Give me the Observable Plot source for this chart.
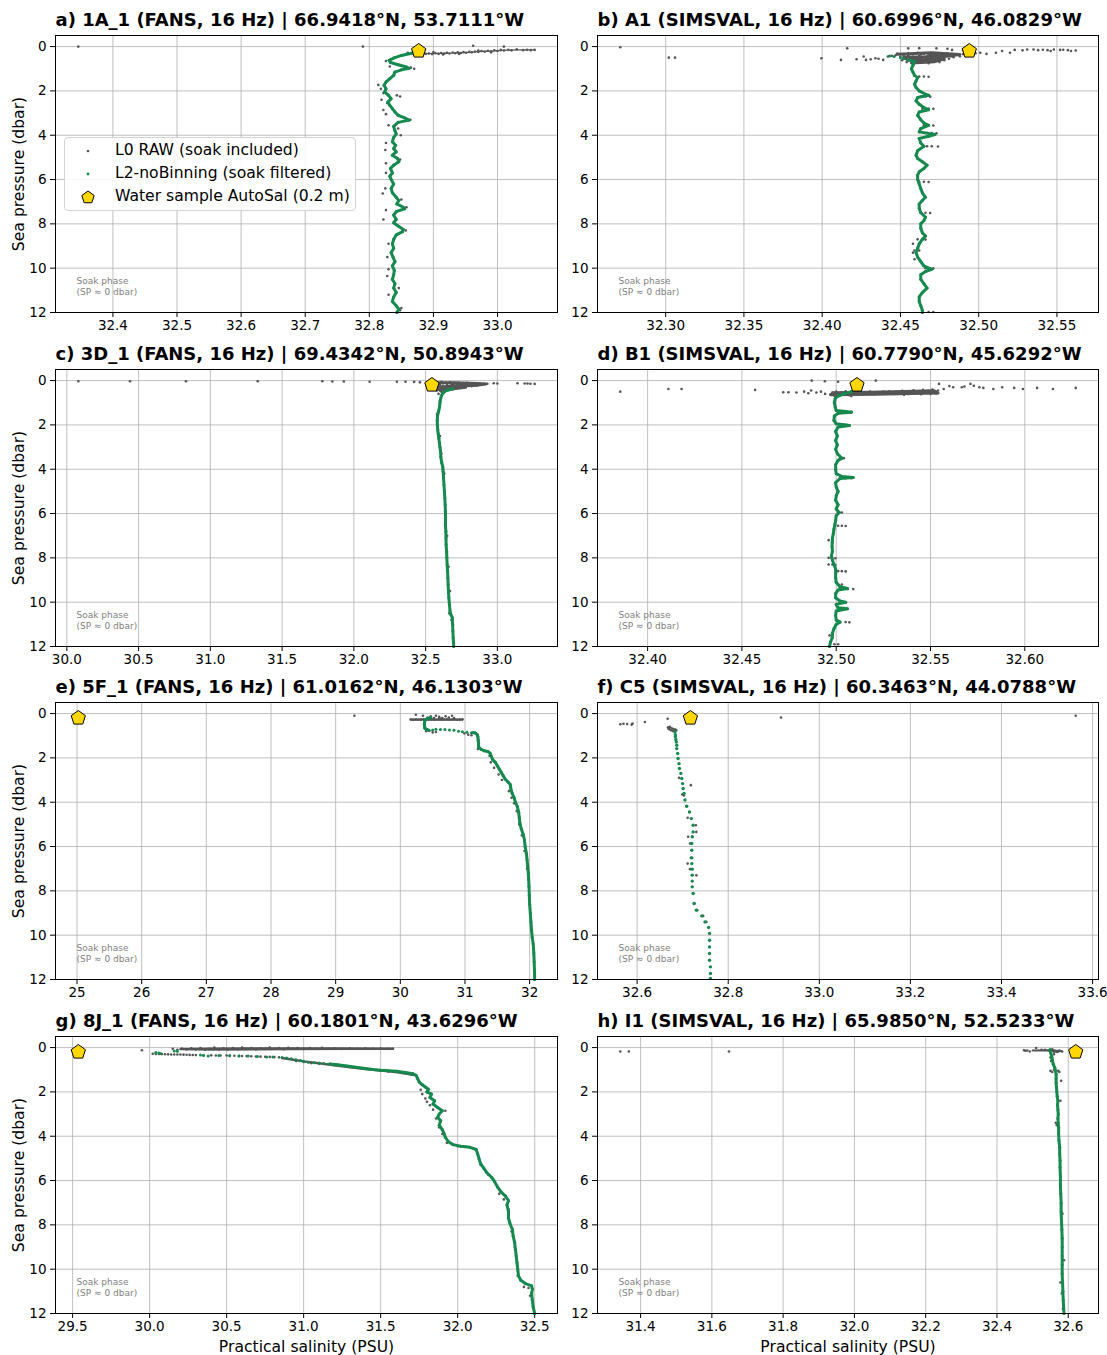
<!DOCTYPE html>
<html><head><meta charset="utf-8">
<script src="https://cdn.jsdelivr.net/npm/d3@7"></script>
<script src="https://cdn.jsdelivr.net/npm/@observablehq/plot@0.6"></script>
<style>
body{margin:0;background:#fff;font-family:"DejaVu Sans",sans-serif;}
#fig{position:relative;width:1107px;height:1355px;overflow:hidden;}
.panel{position:absolute;}
#legend{position:absolute;left:64px;top:137px;width:290px;height:72px;border:1px solid #d3d3d3;border-radius:4px;background:rgba(255,255,255,0.85);z-index:3;font-family:"DejaVu Sans",sans-serif;font-size:15.6px;color:#000;}
#legend .row{position:absolute;left:0;height:22px;width:100%;}
#legend svg{position:absolute;left:14px;top:2px;}
#legend span{position:absolute;left:50px;top:0px;white-space:nowrap;line-height:21px;}
</style></head><body><div id="fig"></div><script>
// ---------- titles & ticks ----------
const titles = [
 "a) 1A_1 (FANS, 16 Hz) | 66.9418°N, 53.7111°W",
 "b) A1 (SIMSVAL, 16 Hz) | 60.6996°N, 46.0829°W",
 "c) 3D_1 (FANS, 16 Hz) | 69.4342°N, 50.8943°W",
 "d) B1 (SIMSVAL, 16 Hz) | 60.7790°N, 45.6292°W",
 "e) 5F_1 (FANS, 16 Hz) | 61.0162°N, 46.1303°W",
 "f) C5 (SIMSVAL, 16 Hz) | 60.3463°N, 44.0788°W",
 "g) 8J_1 (FANS, 16 Hz) | 60.1801°N, 43.6296°W",
 "h) I1 (SIMSVAL, 16 Hz) | 65.9850°N, 52.5233°W"
];
const xTickLabels = [
 ["32.4","32.5","32.6","32.7","32.8","32.9","33.0"],
 ["32.30","32.35","32.40","32.45","32.50","32.55"],
 ["30.0","30.5","31.0","31.5","32.0","32.5","33.0"],
 ["32.40","32.45","32.50","32.55","32.60"],
 ["25","26","27","28","29","30","31","32"],
 ["32.6","32.8","33.0","33.2","33.4","33.6"],
 ["29.5","30.0","30.5","31.0","31.5","32.0","32.5"],
 ["31.4","31.6","31.8","32.0","32.2","32.4","32.6"]
];
const yTickLabels = ["0","2","4","6","8","10","12"];
const legendLabels = ["L0 RAW (soak included)","L2-noBinning (soak filtered)","Water sample AutoSal (0.2 m)"];
const soakNote = "Soak phase\n(SP ≈ 0 dbar)";
const yLabel = "Sea pressure (dbar)";
const xLabel = "Practical salinity (PSU)";

// ---------- water samples [S, P] ----------
const samples = [[32.877,0.2],[32.494,0.2],[32.544,0.2],[32.511,0.2],[25.02,0.2],[32.717,0.2],[29.537,0.2],[32.621,0.2]];

// ---------- panel a ----------
const l2_a = [[32.876,0.22],[32.866,0.3],[32.850,0.4],[32.838,0.52],[32.831,0.62],[32.833,0.72],[32.845,0.82],[32.858,0.92],[32.862,0.98],[32.850,1.05],[32.840,1.15],[32.838,1.3],[32.832,1.45],[32.826,1.6],[32.823,1.75],[32.826,1.9],[32.824,2.05],[32.830,2.2],[32.834,2.35],[32.829,2.5],[32.832,2.65],[32.836,2.8],[32.840,2.95],[32.845,3.1],[32.855,3.22],[32.862,3.32],[32.845,3.42],[32.838,3.6],[32.840,3.8],[32.842,3.95],[32.838,4.1],[32.836,4.3],[32.841,4.45],[32.838,4.6],[32.842,4.75],[32.836,4.9],[32.844,5.05],[32.846,5.2],[32.838,5.35],[32.833,5.5],[32.836,5.7],[32.832,5.85],[32.834,6.0],[32.838,6.2],[32.834,6.4],[32.836,6.6],[32.842,6.8],[32.846,6.95],[32.843,7.1],[32.853,7.25],[32.855,7.32],[32.842,7.45],[32.838,7.6],[32.842,7.8],[32.838,7.95],[32.845,8.1],[32.853,8.25],[32.852,8.35],[32.842,8.5],[32.838,8.7],[32.836,8.9],[32.838,9.1],[32.834,9.3],[32.837,9.5],[32.840,9.7],[32.836,9.9],[32.839,10.1],[32.838,10.3],[32.836,10.5],[32.840,10.7],[32.838,10.9],[32.842,11.1],[32.838,11.3],[32.836,11.5],[32.842,11.7],[32.846,11.85],[32.843,12.0]];
const l2dots_a = [];
const l0trace_a = [[32.880,0.32],[32.910,0.31],[32.935,0.29],[32.955,0.26],[32.975,0.22],[32.995,0.19],[33.015,0.16],[33.035,0.15],[33.058,0.15]];
const l0_a = [[32.346,0.0],[32.79,0.0],[32.962,-0.04],[33.01,0.0],
 [32.882,0.3],[32.888,0.33],[32.893,0.31],[32.898,0.34],[32.903,0.3],[32.908,0.33],[32.912,0.29],[32.917,0.32],[32.921,0.28],[32.925,0.31],[32.930,0.27],[32.934,0.3],[32.938,0.26],[32.943,0.29],[32.947,0.25],[32.951,0.28],[32.956,0.24],[32.960,0.26],[32.965,0.22],[32.970,0.24],[32.975,0.2],[32.980,0.23],[32.985,0.19],[32.990,0.21],[32.995,0.17],[33.000,0.2],[33.005,0.15],[33.010,0.18],[33.017,0.14],[33.022,0.17],[33.030,0.12],[33.040,0.16],[33.046,0.14],[33.052,0.16],[33.058,0.15],[32.900,0.25],[32.915,0.36],[32.94,0.33],[32.97,0.18],[32.99,0.26],
 [32.826,0.65],[32.84,0.5],[32.86,0.28],[32.832,0.9],[32.865,0.95],[32.87,1.0],
 [32.814,1.73],[32.818,1.9],[32.822,2.1],[32.843,2.2],[32.848,2.25],[32.819,2.4],[32.828,2.55],[32.822,2.86],[32.826,3.05],[32.864,3.3],[32.83,3.55],[32.845,3.7],[32.849,4.0],[32.826,4.35],[32.825,4.67],[32.826,5.27],[32.848,5.1],[32.826,5.7],[32.825,6.4],[32.821,6.63],[32.85,6.9],[32.858,7.25],[32.826,7.38],[32.822,7.8],[32.857,8.3],[32.83,8.9],[32.828,9.5],[32.83,10.05],[32.828,10.35],[32.846,10.9],[32.85,11.8],[32.848,11.9],[32.83,11.2]];

// ---------- panel b ----------
const l2dots_b = [[32.443,0.42],[32.446,0.45],[32.450,0.5],[32.452,0.55]];
const l2_b = [[32.455,0.6],[32.458,0.65],[32.459,0.7],[32.458,0.85],[32.457,1.0],[32.458,1.15],[32.459,1.3],[32.461,1.4],[32.460,1.55],[32.459,1.7],[32.460,1.85],[32.462,2.0],[32.466,2.15],[32.468,2.2],[32.461,2.3],[32.460,2.45],[32.462,2.6],[32.465,2.75],[32.468,2.85],[32.462,2.95],[32.461,3.1],[32.463,3.3],[32.465,3.45],[32.468,3.55],[32.463,3.7],[32.462,3.85],[32.472,3.97],[32.468,4.05],[32.462,4.15],[32.463,4.35],[32.465,4.5],[32.461,4.7],[32.460,4.9],[32.461,5.05],[32.464,5.2],[32.467,5.35],[32.465,5.5],[32.462,5.65],[32.461,5.8],[32.461,6.0],[32.462,6.2],[32.463,6.4],[32.464,6.6],[32.466,6.8],[32.464,6.95],[32.462,7.1],[32.462,7.3],[32.463,7.5],[32.466,7.7],[32.465,7.85],[32.463,8.0],[32.463,8.2],[32.464,8.4],[32.466,8.55],[32.464,8.7],[32.462,8.9],[32.461,9.1],[32.460,9.3],[32.461,9.5],[32.463,9.7],[32.465,9.9],[32.470,10.05],[32.466,10.15],[32.463,10.3],[32.463,10.5],[32.465,10.7],[32.467,10.9],[32.464,11.1],[32.462,11.3],[32.462,11.5],[32.463,11.7],[32.464,11.9],[32.464,12.0]];
const l0trace_b = [[32.448,0.35],[32.470,0.28],[32.488,0.36],[32.478,0.45],[32.452,0.48],[32.455,0.6],[32.478,0.55],[32.472,0.68],[32.457,0.74],[32.462,0.62],[32.468,0.42],[32.484,0.42]];
const l0_b = [[32.271,0.03],[32.302,0.5],[32.306,0.5],[32.3995,0.53],[32.416,0.08],[32.412,0.6],[32.422,0.57],[32.4265,0.45],[32.431,0.57],[32.434,0.53],[32.439,0.6],[32.442,0.45],[32.4445,0.42],[32.447,0.38],[32.436,0.55],[32.428,0.6],
 [32.448,0.32],[32.450,0.45],[32.451,0.62],[32.452,0.38],[32.453,0.55],[32.454,0.7],[32.455,0.3],[32.456,0.48],[32.457,0.62],[32.458,0.35],[32.459,0.5],[32.460,0.72],[32.461,0.28],[32.462,0.42],[32.463,0.58],[32.464,0.68],[32.465,0.33],[32.466,0.46],[32.467,0.6],[32.468,0.75],[32.469,0.38],[32.470,0.52],[32.471,0.66],[32.472,0.3],[32.473,0.44],[32.474,0.58],[32.475,0.7],[32.476,0.36],[32.477,0.5],[32.478,0.62],[32.479,0.42],[32.480,0.32],[32.481,0.55],[32.483,0.4],[32.484,0.48],[32.486,0.36],[32.488,0.44],[32.490,0.34],[32.492,0.4],[32.496,0.36],[32.455,0.4],[32.46,0.6],[32.465,0.52],[32.47,0.42],[32.475,0.48],[32.458,0.66],[32.463,0.36],[32.468,0.3],[32.473,0.62],[32.478,0.38],
 [32.498,0.3],[32.501,0.28],[32.505,0.33],[32.511,0.28],[32.520,0.28],[32.523,0.15],[32.531,0.13],[32.535,0.13],[32.541,0.14],[32.546,0.2],[32.548,0.13],[32.552,0.15],[32.554,0.14],[32.559,0.2],[32.562,0.18],[32.515,0.2],[32.528,0.17],[32.538,0.16],[32.544,0.16],[32.557,0.16],
 [32.462,0.07],[32.48,0.1],[32.483,0.15],[32.49,0.15],[32.455,0.08],[32.473,0.08],
 [32.462,1.35],[32.465,1.35],[32.468,1.36],[32.463,2.25],[32.466,2.25],[32.469,2.26],[32.464,2.8],[32.468,2.8],[32.471,2.81],[32.465,3.55],[32.468,3.55],[32.471,3.56],[32.467,3.9],[32.470,3.9],[32.473,3.91],[32.467,4.5],[32.470,4.5],[32.474,4.51],[32.462,6.1],[32.465,6.1],[32.468,6.11],[32.463,7.5],[32.466,7.5],[32.469,7.51],[32.461,8.7],[32.464,8.7],[32.466,8.71],[32.459,9.2],[32.462,9.2],[32.466,10.0],[32.469,10.0],[32.471,10.01],[32.468,11.98],[32.471,11.98],[32.458,9.3],[32.459,9.6],[32.458,8.9]];

// ---------- panel c ----------
const l2_c = [[32.688,0.38],[32.660,0.42],[32.635,0.48],[32.622,0.56],[32.610,0.68],[32.604,0.85],[32.600,1.0],[32.597,1.2],[32.590,1.4],[32.583,1.6],[32.581,1.8],[32.582,2.0],[32.584,2.2],[32.588,2.4],[32.592,2.6],[32.596,2.8],[32.600,3.0],[32.604,3.2],[32.606,3.45],[32.612,3.7],[32.620,3.9],[32.622,4.1],[32.625,4.4],[32.628,4.7],[32.631,5.0],[32.634,5.3],[32.636,5.6],[32.638,5.9],[32.639,6.2],[32.638,6.5],[32.641,6.8],[32.642,7.1],[32.643,7.4],[32.646,7.7],[32.648,8.0],[32.650,8.3],[32.653,8.6],[32.655,8.9],[32.657,9.2],[32.659,9.5],[32.662,9.8],[32.666,10.1],[32.670,10.4],[32.675,10.55],[32.686,10.7],[32.688,11.0],[32.690,11.3],[32.692,11.6],[32.694,11.8],[32.696,12.0]];
const l2dots_c = [];
const l0trace_c = [[32.56,0.1],[32.70,0.1],[32.86,0.13],[32.92,0.15],[32.84,0.22],[32.70,0.25],[32.58,0.3],[32.60,0.42],[32.68,0.38],[32.78,0.3]];
const l0_c = [[30.08,0.03],[30.44,0.03],[30.83,0.03],[31.33,0.03],[31.78,0.03],[31.85,0.04],[31.93,0.04],[32.11,0.05],[32.30,0.05],[32.36,0.05],[32.42,0.06],[32.46,0.08],[32.975,0.12],[33.0,0.13],[33.14,0.12],[33.19,0.13],[33.21,0.13],[33.23,0.14],[33.26,0.15],
 [32.55,0.1],[32.58,0.08],[32.61,0.06],[32.64,0.1],[32.67,0.08],[32.70,0.12],[32.73,0.1],[32.76,0.12],[32.79,0.1],[32.82,0.13],[32.85,0.12],[32.88,0.15],[32.91,0.14],[32.93,0.14],[32.62,0.12],[32.68,0.14],[32.74,0.15],[32.80,0.15],
 [32.57,0.3],[32.59,0.38],[32.60,0.2],[32.62,0.25],[32.63,0.35],[32.65,0.2],[32.66,0.3],[32.67,0.4],[32.68,0.22],[32.70,0.28],[32.71,0.35],[32.72,0.2],[32.74,0.25],[32.75,0.32],[32.77,0.2],[32.78,0.28],[32.80,0.22],[32.82,0.25],[32.84,0.2],[32.86,0.22],[32.60,0.45],[32.62,0.42],[32.65,0.4],[32.58,0.45],[32.64,0.28],[32.69,0.18],[32.73,0.3],[32.76,0.25],
 [32.61,0.5],[32.59,0.6],[32.60,0.9],[32.58,1.5],[32.60,2.5],[32.61,3.3],[32.62,4.0],[32.63,4.2],[32.65,7.0],[32.66,8.4],[32.67,9.5],[32.665,10.5],[32.68,10.8]];

// ---------- panel d ----------
const l2_d = [[32.508,0.5],[32.504,0.6],[32.501,0.7],[32.4995,0.8],[32.499,1.0],[32.4995,1.2],[32.500,1.35],[32.505,1.4],[32.508,1.43],[32.501,1.48],[32.499,1.6],[32.4988,1.8],[32.500,1.95],[32.505,2.0],[32.507,2.03],[32.501,2.1],[32.4997,2.3],[32.5006,2.5],[32.4997,2.7],[32.5006,2.9],[32.4997,3.1],[32.5006,3.3],[32.503,3.5],[32.501,3.6],[32.4997,3.8],[32.4997,4.0],[32.500,4.2],[32.503,4.33],[32.509,4.37],[32.502,4.42],[32.4997,4.6],[32.500,4.8],[32.501,5.0],[32.500,5.2],[32.4997,5.4],[32.501,5.6],[32.500,5.8],[32.5016,5.95],[32.500,6.1],[32.4997,6.3],[32.4993,6.5],[32.4988,6.7],[32.4985,6.9],[32.498,7.1],[32.4979,7.3],[32.4978,7.5],[32.498,7.7],[32.4975,7.9],[32.498,8.1],[32.4988,8.3],[32.4997,8.5],[32.4997,8.7],[32.4997,8.9],[32.500,9.1],[32.502,9.3],[32.506,9.38],[32.501,9.45],[32.4997,9.6],[32.4997,9.8],[32.502,9.95],[32.505,10.0],[32.500,10.1],[32.501,10.25],[32.506,10.3],[32.500,10.4],[32.4997,10.6],[32.500,10.8],[32.502,10.9],[32.500,11.0],[32.4988,11.2],[32.498,11.4],[32.4979,11.6],[32.497,11.8],[32.4964,12.0]];
const l2dots_d = [];
const l0trace_d = [[32.497,0.64],[32.52,0.62],[32.54,0.58],[32.554,0.56],[32.552,0.46],[32.53,0.5],[32.51,0.54],[32.498,0.55]];
const l0_d = [[32.3855,0.5],[32.411,0.38],[32.418,0.38],[32.457,0.42],[32.4719,0.53],[32.4747,0.53],[32.4789,0.54],[32.483,0.5],[32.4852,0.57],[32.4867,0.45],[32.4895,0.54],[32.4919,0.5],[32.4941,0.6],[32.487,0.0],[32.494,0.03],[32.501,0.05],[32.521,0.0],
 [32.497,0.62],[32.498,0.55],[32.499,0.68],[32.5,0.5],[32.501,0.6],[32.502,0.66],[32.503,0.54],[32.504,0.62],[32.505,0.48],[32.506,0.58],[32.507,0.66],[32.508,0.52],[32.509,0.6],[32.51,0.56],[32.511,0.64],[32.512,0.5],[32.513,0.58],[32.514,0.62],[32.515,0.54],[32.516,0.6],[32.518,0.5],[32.519,0.58],[32.52,0.62],[32.522,0.54],[32.523,0.6],[32.525,0.5],[32.526,0.57],[32.528,0.48],[32.529,0.55],[32.531,0.6],[32.532,0.5],[32.534,0.56],[32.535,0.46],[32.537,0.53],[32.538,0.6],[32.54,0.5],[32.541,0.44],[32.543,0.55],[32.544,0.48],[32.546,0.42],[32.547,0.54],[32.549,0.46],[32.55,0.6],[32.551,0.4],[32.552,0.5],[32.553,0.58],[32.554,0.45],[32.545,0.62],[32.536,0.64],[32.508,0.7],[32.5,0.72],
 [32.5545,0.15],[32.557,0.38],[32.5666,0.3],[32.568,0.27],[32.5712,0.15],[32.573,0.23],[32.5759,0.3],[32.578,0.33],[32.5833,0.38],[32.588,0.3],[32.5944,0.33],[32.599,0.38],[32.6065,0.33],[32.6149,0.38],[32.627,0.33],[32.562,0.3],[32.56,0.25],
 [32.502,1.4],[32.505,1.4],[32.508,1.41],[32.502,2.0],[32.504,2.0],[32.506,2.01],[32.502,3.5],[32.504,3.5],[32.502,4.4],[32.505,4.4],[32.508,4.41],[32.501,5.95],[32.503,5.95],[32.501,6.55],[32.503,6.55],[32.505,6.56],[32.496,7.2],[32.498,7.2],[32.496,8.0],[32.4975,8.0],[32.4995,8.02],[32.496,8.3],[32.498,8.3],[32.4995,8.32],[32.501,8.6],[32.503,8.6],[32.505,8.61],[32.501,9.2],[32.503,9.2],[32.502,9.4],[32.506,9.4],[32.509,9.41],[32.502,10.0],[32.505,10.0],[32.502,10.3],[32.505,10.3],[32.502,10.9],[32.505,10.9],[32.507,10.91],[32.4965,11.5],[32.498,11.5],[32.499,11.9],[32.501,11.9]];

// ---------- panel e ----------
const l2_e = [[30.47,0.18],[30.43,0.22],[30.39,0.28],[30.375,0.38],[30.372,0.48],[30.375,0.58],[30.38,0.66],[30.41,0.72],[30.44,0.75],[null,null],
 [31.13,0.86],[31.16,0.88],[31.19,0.95],[31.20,1.05],[31.205,1.2],[31.21,1.35],[31.21,1.5],[31.25,1.62],[31.30,1.68],[31.36,1.72],[31.39,1.8],[31.41,1.95],[31.43,2.08],[31.47,2.2],[31.50,2.35],[31.53,2.5],[31.56,2.65],[31.59,2.8],[31.62,2.95],[31.67,3.1],[31.70,3.2],[31.71,3.4],[31.73,3.6],[31.76,3.8],[31.78,4.0],[31.81,4.2],[31.83,4.45],[31.84,4.7],[31.85,4.95],[31.87,5.2],[31.90,5.45],[31.92,5.7],[31.93,6.0],[31.95,6.3],[31.96,6.6],[31.97,6.9],[31.98,7.2],[31.985,7.5],[31.99,7.8],[31.995,8.2],[32.0,8.6],[32.01,9.0],[32.02,9.4],[32.03,9.8],[32.04,10.1],[32.055,10.4],[32.065,10.8],[32.07,11.2],[32.075,11.6],[32.078,12.0]];
const l2dots_e = [[30.50,0.74],[30.55,0.71],[30.62,0.72],[30.69,0.72],[30.76,0.74],[30.83,0.75],[30.90,0.8],[30.96,0.82],[31.03,0.84],[31.10,0.86]];
const l0trace_e = [[30.16,0.27],[30.50,0.27],[30.96,0.27]];
const l0_e = [[29.29,0.1],
 [30.16,0.27],[30.2,0.28],[30.24,0.26],[30.28,0.28],[30.32,0.27],[30.36,0.26],[30.4,0.28],[30.44,0.27],[30.48,0.26],[30.52,0.28],[30.56,0.27],[30.6,0.26],[30.64,0.28],[30.68,0.27],[30.72,0.26],[30.76,0.28],[30.8,0.27],[30.84,0.26],[30.88,0.28],[30.92,0.27],[30.96,0.26],
 [30.24,0.05],[30.35,0.1],[30.42,0.18],[30.47,0.12],[30.52,0.2],[30.55,0.1],[30.6,0.15],[30.65,0.2],[30.7,0.12],[30.75,0.18],[30.8,0.1],[30.83,0.2],[30.45,0.22],[30.62,0.22],
 [30.37,0.5],[30.38,0.6],[30.39,0.7],[30.4,0.8],[30.45,0.78],[30.5,0.85],[30.55,0.83],[30.99,0.9],[31.1,0.98],[31.05,0.95],
 [31.40,2.2],[31.45,2.45],[31.52,2.75],[31.57,3.0],[31.68,3.5],[31.72,3.8],[31.76,4.05],[31.80,4.4],[31.84,5.0],[31.88,5.5],[31.92,6.2],[31.96,7.0],[31.38,1.9],[31.2,1.6]];

// ---------- panel f ----------
const l2_f = [];
const l2dots_f = [[32.683,0.83],[32.684,0.95],[32.684,1.05],[32.685,1.17],[32.686,1.28],[32.687,1.43],[32.687,1.58],[32.689,1.8],[32.690,2.03],[32.692,2.26],[32.693,2.48],[32.696,2.7],[32.698,2.93],[32.700,3.16],[32.701,3.38],[32.703,3.6],[32.705,3.9],[32.709,4.18],[32.715,4.44],[32.719,4.74],[32.723,5.04],[32.723,5.34],[32.721,5.56],[32.720,5.86],[32.720,6.17],[32.720,6.51],[32.720,6.77],[32.721,7.02],[32.721,7.29],[32.721,7.56],[32.721,7.82],[32.723,8.12],[32.725,8.57],[32.730,8.87],[32.742,9.13],[32.749,9.4],[32.757,9.65],[32.759,9.92],[32.759,10.23],[32.759,10.53],[32.759,10.83],[32.759,11.13],[32.761,11.43],[32.761,11.73],[32.761,11.95]];
const l0trace_f = [];
const l0_f = [[32.563,0.48],[32.570,0.46],[32.578,0.47],[32.588,0.5],[32.590,0.45],[32.617,0.38],[32.667,0.23],[32.916,0.18],[33.563,0.1],
 [32.668,0.62],[32.672,0.6],[32.676,0.66],[32.680,0.7],[32.684,0.72],[32.670,0.7],[32.674,0.75],[32.678,0.78],[32.682,0.8],[32.686,0.75],[32.669,0.68],
 [32.692,2.9],[32.718,3.23],[32.699,3.65],[32.703,3.7],[32.708,4.18],[32.711,4.7],[32.729,5.04],[32.730,5.34],[32.712,5.56],[32.716,5.86],[32.711,6.77],[32.716,7.02],[32.730,7.3],[32.726,8.57],[32.732,8.87],[32.745,9.13],[32.752,9.4],[32.718,6.51]];

// ---------- panel g ----------
const l2dots_g = [[30.04,0.22],[30.06,0.25],[30.07,0.27],[30.16,0.15],[30.18,0.16],[30.33,0.34],[30.35,0.36],[30.38,0.38],[30.45,0.36],[30.52,0.37],[30.58,0.38],[30.64,0.38],[30.70,0.4],[30.76,0.42],[30.80,0.43],[30.86,0.45],[30.89,0.47],[30.92,0.5],[30.95,0.55],[30.98,0.58],[31.00,0.62],[31.03,0.66],[31.07,0.68],[31.10,0.7],[31.13,0.72]];
const l2_g = [[31.17,0.74],[31.22,0.78],[31.28,0.83],[31.34,0.89],[31.40,0.94],[31.45,0.99],[31.50,1.02],[31.55,1.04],[31.60,1.07],[31.66,1.12],[31.71,1.18],[31.73,1.25],[31.74,1.4],[31.75,1.55],[31.77,1.68],[31.79,1.78],[31.81,1.88],[31.80,2.0],[31.83,2.1],[31.82,2.25],[31.85,2.4],[31.84,2.55],[31.87,2.7],[31.90,2.85],[31.88,3.0],[31.87,3.15],[31.89,3.3],[31.88,3.5],[31.90,3.7],[31.91,3.85],[31.92,4.05],[31.94,4.25],[31.97,4.38],[32.02,4.45],[32.08,4.5],[32.12,4.6],[32.13,4.8],[32.14,5.05],[32.15,5.25],[32.17,5.45],[32.19,5.65],[32.22,5.85],[32.24,6.05],[32.26,6.3],[32.28,6.5],[32.31,6.7],[32.33,6.9],[32.32,7.1],[32.33,7.4],[32.33,7.7],[32.34,7.95],[32.355,8.2],[32.36,8.5],[32.37,8.8],[32.375,9.1],[32.38,9.4],[32.385,9.7],[32.39,10.0],[32.395,10.3],[32.41,10.5],[32.44,10.65],[32.48,10.75],[32.485,10.9],[32.48,11.1],[32.485,11.4],[32.49,11.7],[32.50,12.0]];
const l0trace_g = [[31.58,0.05],[31.2,0.04],[30.8,0.04],[30.4,0.05],[30.2,0.07],[30.4,0.09],[30.9,0.07],[31.3,0.06],[null,null],
 [30.86,0.47],[31.0,0.62],[31.2,0.8],[31.4,0.97],[31.6,1.1],[31.72,1.24]];
const l0_g = [[29.95,0.12],
 [30.15,0.05],[30.18,0.1],[30.21,0.04],[30.24,0.09],[30.27,0.03],[30.3,0.08],[30.33,0.02],[30.36,0.1],[30.39,0.05],[30.42,0.0],[30.45,0.08],[30.48,0.03],[30.51,0.09],[30.54,0.02],[30.57,0.07],[30.6,0.0],[30.63,0.06],[30.66,0.02],[30.69,0.08],[30.72,0.03],[30.75,0.06],[30.78,0.0],[30.81,0.05],[30.84,0.02],[30.87,0.07],[30.9,0.01],[30.93,0.05],[30.96,0.02],[31.0,0.06],[31.04,0.02],[31.08,0.05],[31.12,0.01],[31.16,0.05],[31.2,0.03],[31.25,0.06],[31.3,0.03],[31.35,0.05],[31.4,0.03],[31.45,0.05],[31.5,0.04],[31.55,0.05],[31.58,0.05],
 [30.02,0.28],[30.04,0.285],[30.06,0.29],[30.08,0.295],[30.10,0.3],[30.12,0.305],[30.14,0.31],[30.16,0.31],[30.18,0.31],[30.20,0.315],[30.22,0.32],[30.24,0.325],[30.26,0.33],[30.28,0.335],[30.30,0.34],[30.35,0.345],[30.40,0.35],[30.43,0.355],[30.46,0.36],[30.50,0.36],[30.52,0.365],[30.55,0.37],[30.58,0.375],[30.60,0.38],[30.63,0.385],[30.66,0.39],[30.69,0.4],[30.72,0.41],[30.75,0.415],[30.78,0.42],[30.81,0.43],[30.84,0.44],
 [30.95,0.6],[31.0,0.65],[31.05,0.7],[31.1,0.73],[31.2,0.8],[31.25,0.82],[31.3,0.88],[31.35,0.92],[31.4,0.96],[31.45,1.0],[31.5,1.05],[31.55,1.08],[31.6,1.1],[31.65,1.15],[31.7,1.22],
 [31.76,1.9],[31.77,2.1],[31.79,2.3],[31.80,2.45],[31.82,2.6],[31.84,2.8],[31.92,2.85],[31.86,3.2],[31.88,3.6],[31.9,3.9],[31.93,4.3],[32.0,4.45],[32.05,4.48],[32.15,5.3],[32.2,5.75],[32.27,6.6],[32.3,6.85],[32.33,7.3],[32.35,8.3],[32.37,9.0],[32.39,10.3],[32.43,10.8],[32.46,10.85],[32.47,11.2]];

// ---------- panel h ----------
const l2_h = [[32.549,0.1],[32.551,0.25],[32.554,0.42],[32.556,0.6],[32.558,0.75],[32.562,0.9],[32.564,1.03],[32.566,1.2],[32.566,1.4],[32.566,1.6],[32.567,1.8],[32.568,2.0],[32.569,2.2],[32.571,2.4],[32.570,2.6],[32.571,2.8],[32.572,3.0],[32.571,3.2],[32.572,3.4],[32.573,3.6],[32.573,3.9],[32.574,4.2],[32.576,4.5],[32.576,4.8],[32.577,5.1],[32.577,5.4],[32.578,5.8],[32.578,6.2],[32.579,6.6],[32.580,7.0],[32.580,7.4],[32.581,7.8],[32.582,8.2],[32.583,8.6],[32.583,9.0],[32.583,9.4],[32.583,9.8],[32.583,10.2],[32.584,10.6],[32.585,11.0],[32.586,11.4],[32.587,11.7],[32.588,12.0]];
const l2dots_h = [];
const l0trace_h = [[32.50,0.13],[32.54,0.12],[32.58,0.15],[32.56,0.2],[32.552,0.12]];
const l0_h = [[31.343,0.18],[31.367,0.18],[31.648,0.18],
 [32.476,0.12],[32.480,0.14],[32.485,0.13],[32.492,0.18],[32.51,0.02],[32.525,0.1],[32.535,0.1],[32.545,0.13],[32.552,0.15],[32.558,0.12],[32.562,0.14],[32.568,0.17],[32.575,0.13],[32.583,0.18],[32.57,0.2],[32.555,0.08],[32.56,0.3],[32.55,0.45],[32.552,0.6],
 [32.55,1.05],[32.555,1.1],[32.56,1.0],[32.572,1.05],[32.575,1.1],
 [32.58,1.5],[32.578,2.4],[32.565,3.4],[32.568,3.5],[32.584,7.5],[32.588,9.6],[32.578,10.6],[32.582,11.1],[32.585,11.8]];

// ---------- build ----------
const GRAY = "#555555", GREEN = "#168a4e", GOLD = "#ffd700";
const l0s = [l0_a,l0_b,l0_c,l0_d,l0_e,l0_f,l0_g,l0_h];
const l0traces = [l0trace_a,l0trace_b,l0trace_c,l0trace_d,l0trace_e,l0trace_f,l0trace_g,l0trace_h];
const traceWidths = [1.2, 3, 3, 3, 2.2, 0, 2.4, 2];
const l2s = [l2_a,l2_b,l2_c,l2_d,l2_e,l2_f,l2_g,l2_h];
const l2dots = [l2dots_a,l2dots_b,l2dots_c,l2dots_d,l2dots_e,l2dots_f,l2dots_g,l2dots_h];
const yTicks = yTickLabels.map(Number);

const pentagon = {
  draw(ctx, size) {
    const R = Math.sqrt(size / Math.PI);
    for (let k = 0; k < 5; k++) {
      const a = -Math.PI / 2 + k * 2 * Math.PI / 5;
      const x = R * Math.cos(a), y = R * Math.sin(a);
      if (k === 0) ctx.moveTo(x, y); else ctx.lineTo(x, y);
    }
    ctx.closePath();
  }
};

const fig = document.getElementById("fig");
const frameTops = [35, 369, 702, 1036];
const X = d => d[0], Y = d => d[1];

for (let i = 0; i < 8; i++) {
  const col = i % 2, row = Math.floor(i / 2);
  const last = row === 3;
  const width = col ? 547 : 560;
  const mL = col ? 37 : 55, mR = col ? 9 : 3;
  const mT = 35, mB = last ? 43 : 21;
  const height = mT + 277 + mB;
  const all = [...l0s[i], ...l2s[i], ...l2dots[i], samples[i]].filter(d => d[0] != null).map(d => d[0]);
  const [mn, mx] = d3.extent(all);
  const pad = (mx - mn) * 0.05;
  const labels = xTickLabels[i];
  const ticks = labels.map(Number);
  const dec = (labels[0].split(".")[1] || "").length;
  const fmt = d3.format(`.${dec}f`);
  const marks = [
    Plot.gridX(ticks, {stroke: "#b0b0b0", strokeOpacity: 1, strokeWidth: 0.8}),
    Plot.gridY(yTicks, {stroke: "#b0b0b0", strokeOpacity: 1, strokeWidth: 0.8}),
    Plot.axisX({ticks, tickFormat: fmt, tickSize: 5, tickPadding: 3, fontSize: 13.5, label: null}),
    Plot.axisY({ticks: yTicks, tickFormat: d => String(d), tickSize: 5, tickPadding: 4, fontSize: 13.5, label: null}),
    Plot.line(l0traces[i], {x: X, y: Y, stroke: GRAY, strokeWidth: traceWidths[i], strokeLinejoin: "round"}),
    Plot.dot(l0s[i], {x: X, y: Y, r: 1.3, fill: GRAY}),
    Plot.line(l2s[i], {x: X, y: Y, stroke: GREEN, strokeWidth: 3}),
    Plot.dot(l2s[i].filter(d => d[0] != null), {x: X, y: Y, r: 1.5, fill: GREEN}),
    Plot.dot(l2dots[i], {x: X, y: Y, r: i === 5 ? 1.7 : 1.5, fill: GREEN}),
    Plot.dot([samples[i]], {x: X, y: Y, r: 7.5, symbol: pentagon, fill: GOLD, stroke: "#000", strokeWidth: 1}),
    Plot.text([soakNote], {frameAnchor: "bottom-left", dx: 21, dy: -18, textAnchor: "start", lineAnchor: "bottom", fontSize: 9, fill: "#7f7f7f", lineHeight: 1.2}),
    Plot.text([titles[i]], {frameAnchor: "top-left", dy: -15, textAnchor: "start", lineAnchor: "middle", fontSize: 18, fontWeight: "bold", fill: "#000"}),
    Plot.frame({stroke: "#000", strokeWidth: 1})
  ];
  if (col === 0) marks.push(Plot.text([yLabel], {frameAnchor: "left", dx: -37, rotate: -90, fontSize: 15.6, textAnchor: "middle", lineAnchor: "middle", fill: "#000"}));
  if (last) marks.push(Plot.text([xLabel], {frameAnchor: "bottom", dy: 33, fontSize: 15.6, textAnchor: "middle", lineAnchor: "middle", fill: "#000"}));
  const svg = Plot.plot({
    width, height, marginLeft: mL, marginRight: mR, marginTop: mT, marginBottom: mB,
    x: {domain: [mn - pad, mx + pad], axis: null},
    y: {domain: [-0.5, 12], reverse: true, axis: null},
    style: {fontFamily: "DejaVu Sans", fontSize: "13.5px", background: "transparent", overflow: "visible", color: "#000"},
    marks
  });
  const wrap = document.createElement("div");
  wrap.className = "panel";
  wrap.style.left = (col ? 560 : 0) + "px";
  wrap.style.top = (frameTops[row] - mT) + "px";
  wrap.appendChild(svg);
  fig.appendChild(wrap);
}

// legend (panel a)
const lg = document.createElement("div");
lg.id = "legend";
const markers = [
  `<svg width="18" height="18"><circle cx="9" cy="9" r="1.3" fill="${GRAY}"/></svg>`,
  `<svg width="18" height="18"><circle cx="9" cy="9" r="1.4" fill="${GREEN}"/></svg>`,
  `<svg width="18" height="18"><path d="${(() => { const R = 6.5; let s = ""; for (let k = 0; k < 5; k++) { const a = -Math.PI/2 + k*2*Math.PI/5; s += (k ? "L" : "M") + (9 + R*Math.cos(a)).toFixed(2) + "," + (9.5 + R*Math.sin(a)).toFixed(2); } return s + "Z"; })()}" fill="${GOLD}" stroke="#000" stroke-width="1"/></svg>`
];
legendLabels.forEach((t, k) => {
  const r = document.createElement("div");
  r.className = "row";
  r.style.top = (2 + k * 23) + "px";
  r.innerHTML = markers[k] + `<span>${t}</span>`;
  lg.appendChild(r);
});
fig.appendChild(lg);
</script></body></html>
